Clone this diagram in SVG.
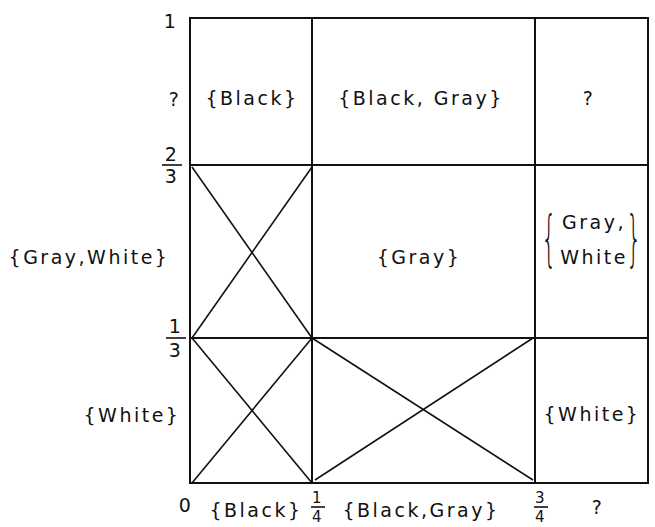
<svg xmlns="http://www.w3.org/2000/svg" width="655" height="527" viewBox="0 0 655 527">
<style>
.g{stroke:#111;stroke-width:2;fill:none}
.d{stroke:#111;stroke-width:1.6;fill:none}
text{font-family:"DejaVu Sans","Liberation Sans",sans-serif;font-size:19px;fill:#111;letter-spacing:2.5px;text-anchor:middle}
.f{stroke:#111;stroke-width:1.6}
.s{font-size:15px}
.b{font-size:24px;font-weight:200;letter-spacing:0;opacity:0.99}
</style>
<rect width="655" height="527" fill="#fff"/>
<g id="connectors">
<rect class="g" x="190" y="18" width="458" height="465"/>
<line class="g" x1="190" y1="165" x2="648" y2="165"/>
<line class="g" x1="190" y1="338" x2="648" y2="338"/>
<line class="g" x1="312" y1="18" x2="312" y2="483"/>
<line class="g" x1="535" y1="18" x2="535" y2="483"/>
<line class="d" x1="192" y1="167" x2="312" y2="338"/>
<line class="d" x1="312" y1="167" x2="192" y2="338"/>
<line class="d" x1="192" y1="338" x2="312" y2="483"/>
<line class="d" x1="312" y1="338" x2="192" y2="483"/>
<line class="d" x1="312" y1="338" x2="533" y2="480"/>
<line class="d" x1="533" y1="338" x2="315" y2="480"/>
</g>
<g id="axis-left">
<text x="171" y="28">1</text>
<text x="175" y="106">?</text>
<text x="172" y="161">2</text><line class="f" x1="162" y1="165" x2="182" y2="165"/><text x="172" y="183">3</text>
<text x="176" y="333">1</text><line class="f" x1="166" y1="338" x2="186" y2="338"/><text x="176" y="357">3</text>
<text x="89" y="264">{Gray,White}</text>
<text x="132" y="422">{White}</text>
</g>
<g id="axis-bottom">
<text x="186" y="512">0</text>
<text x="256" y="517">{Black}</text>
<text x="318" y="503" class="s">1</text><line class="f" x1="311" y1="507" x2="325" y2="507"/><text x="318" y="522" class="s">4</text>
<text x="421" y="517">{Black,Gray}</text>
<text x="541" y="503" class="s">3</text><line class="f" x1="534" y1="507" x2="548" y2="507"/><text x="541" y="522" class="s">4</text>
<text x="598" y="514">?</text>
</g>
<g id="cell-top-left"><text x="252" y="105">{Black}</text></g>
<g id="cell-top-mid"><text x="421" y="105">{Black, Gray}</text></g>
<g id="cell-top-right"><text x="589" y="105">?</text></g>
<g id="cell-mid-mid"><text x="419" y="264">{Gray}</text></g>
<g id="cell-mid-right">
<text x="594" y="229">Gray,</text>
<text x="594" y="264">White</text>
<text class="b" transform="translate(549,259) scale(1,2.5)">{</text>
<text class="b" transform="translate(634,259) scale(1,2.5)">}</text>
</g>
<g id="cell-bot-right"><text x="592" y="421">{White}</text></g>
</svg>
